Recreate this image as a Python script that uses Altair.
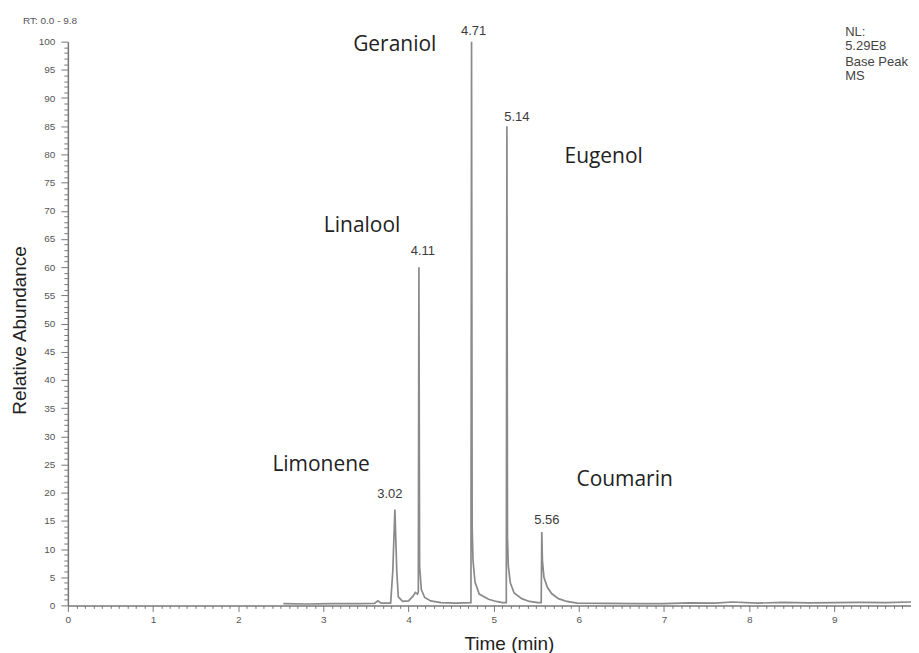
import altair as alt
import pandas as pd

# ---- chromatogram trace ----
times = [2.53, 2.8, 3.1, 3.4, 3.6, 3.64, 3.68, 3.79, 3.815, 3.84, 3.862, 3.88, 3.93,
         4.0, 4.05, 4.08, 4.105, 4.115, 4.122, 4.13, 4.15, 4.19, 4.26, 4.38, 4.55,
         4.733, 4.74, 4.747, 4.757, 4.78, 4.83, 4.94, 5.03, 5.10,
         5.148, 5.155, 5.162, 5.172, 5.195, 5.24, 5.33, 5.42, 5.52,
         5.558, 5.565, 5.572, 5.59, 5.63, 5.68, 5.76, 5.86, 5.98,
         6.3, 6.7, 7.0, 7.3, 7.6, 7.8, 8.1, 8.4, 8.7, 9.0, 9.3, 9.6, 9.9]
abund = [0.3, 0.25, 0.3, 0.3, 0.35, 0.8, 0.4, 0.4, 6, 17, 6, 1.5, 0.7,
         0.8, 1.6, 2.3, 2.0, 2.4, 60, 7, 2.8, 1.4, 0.8, 0.5, 0.4,
         0.5, 100, 14, 8, 4.2, 2.0, 1.1, 0.7, 0.5,
         0.5, 85, 12, 7, 4, 2.2, 1.2, 0.7, 0.5,
         0.5, 13, 8, 5, 3.2, 2.1, 1.2, 0.7, 0.4,
         0.35, 0.3, 0.3, 0.45, 0.4, 0.6, 0.4, 0.55, 0.45, 0.5, 0.55, 0.5, 0.6]

# ---- peaks ----
peak_names = ["Limonene", "Linalool", "Geraniol", "Eugenol", "Coumarin"]
peak_rt_labels = ["3.02", "4.11", "4.71", "5.14", "5.56"]
peak_times = [3.84, 4.122, 4.74, 5.155, 5.565]
peak_heights = [17, 60, 100, 85, 13]

# ---- axis ticks ----
x_ticks = [round(i * 0.1, 1) for i in range(0, 100)]
y_ticks = list(range(0, 101))

# ---- info texts ----
rt_range_text = "RT: 0.0 - 9.8"
nl_lines = ["NL:", "5.29E8", "Base Peak", "MS"]

# styling offsets (pixels) for annotations
rt_offsets = [(-5, -16), (4, -16), (2, -11), (10, -9), (5, -12)]
name_offsets = [(-74, -45), (-57, -41), (-77, 3), (97, 31), (83, -52)]
nl_y = [-10, 4, 20, 34]

W, H = 845, 565
AX = "#777777"
LBL = "#555555"

is_major_x = "abs(datum.value - round(datum.value)) < 0.001"
is_major_y = "datum.value % 5 === 0"

x_enc = alt.X(
    "time:Q",
    scale=alt.Scale(domain=[0, 9.9], nice=False, zero=False),
    axis=alt.Axis(
        title="Time (min)", values=x_ticks,
        labelExpr=f"{is_major_x} ? format(datum.value, 'd') : ''",
        tickSize={"condition": {"test": is_major_x, "value": 6}, "value": 3},
        labelOverlap=False, labelFlush=False, grid=False,
        domainColor=AX, tickColor=AX, domainWidth=1.5, tickWidth=1,
        labelColor=LBL, labelFont="Liberation Sans", labelFontSize=10, labelPadding=3,
        titleFont="Liberation Sans", titleFontSize=19, titleFontWeight="normal",
        titleColor="#222222", titleX=442, titleY=38, titleBaseline="middle",
        titleAlign="center",
    ),
)
y_enc = alt.Y(
    "abundance:Q",
    scale=alt.Scale(domain=[0, 100], nice=False),
    axis=alt.Axis(
        title="Relative Abundance", values=y_ticks,
        labelExpr=f"{is_major_y} ? format(datum.value, 'd') : ''",
        tickSize={"condition": {"test": is_major_y, "value": 7}, "value": 4},
        labelOverlap=False, labelFlush=False, grid=False,
        domainColor=AX, tickColor=AX, domainWidth=1.5, tickWidth=1,
        labelColor=LBL, labelFont="Liberation Sans", labelFontSize=10, labelPadding=6,
        titleFont="Liberation Sans", titleFontSize=19, titleFontWeight="normal",
        titleColor="#222222", titleX=-48, titleY=289, titleBaseline="middle",
        titleAlign="center",
    ),
)

trace_df = pd.DataFrame({"time": times, "abundance": abund})
line = alt.Chart(trace_df).mark_line(color="#8a8a8a", strokeWidth=1.7).encode(x=x_enc, y=y_enc)

layers = [line]
for i in range(len(peak_names)):
    df = pd.DataFrame({"time": [peak_times[i]], "abundance": [peak_heights[i]],
                       "rt": [peak_rt_labels[i]], "name": [peak_names[i]]})
    rdx, rdy = rt_offsets[i]
    ndx, ndy = name_offsets[i]
    layers.append(
        alt.Chart(df).mark_text(dx=rdx, dy=rdy, align="center", baseline="middle",
                                font="Liberation Sans", fontSize=13, color="#3a3a3a")
        .encode(x=x_enc, y=y_enc, text="rt:N")
    )
    layers.append(
        alt.Chart(df).mark_text(dx=ndx, dy=ndy, align="center", baseline="middle",
                                font="Open Sans", fontSize=21, color="#222222")
        .encode(x=x_enc, y=y_enc, text="name:N")
    )

rt_df = pd.DataFrame({"t": [rt_range_text]})
layers.append(
    alt.Chart(rt_df).mark_text(align="left", baseline="middle", font="Liberation Sans",
                               fontSize=10, color="#555555")
    .encode(x=alt.value(-45), y=alt.value(-21), text="t:N")
)
for line_text, yy in zip(nl_lines, nl_y):
    d = pd.DataFrame({"t": [line_text]})
    layers.append(
        alt.Chart(d).mark_text(align="left", baseline="middle", font="Liberation Sans",
                               fontSize=13, color="#444444")
        .encode(x=alt.value(779), y=alt.value(yy), text="t:N")
    )

chart = alt.layer(*layers).properties(
    width=W, height=H,
    autosize=alt.AutoSizeParams(type="none"),
    padding={"left": 60, "top": 33, "right": 0, "bottom": 47},
).configure_view(stroke=None)

chart.save("out.html", embed_options={"renderer": "svg", "actions": False})
